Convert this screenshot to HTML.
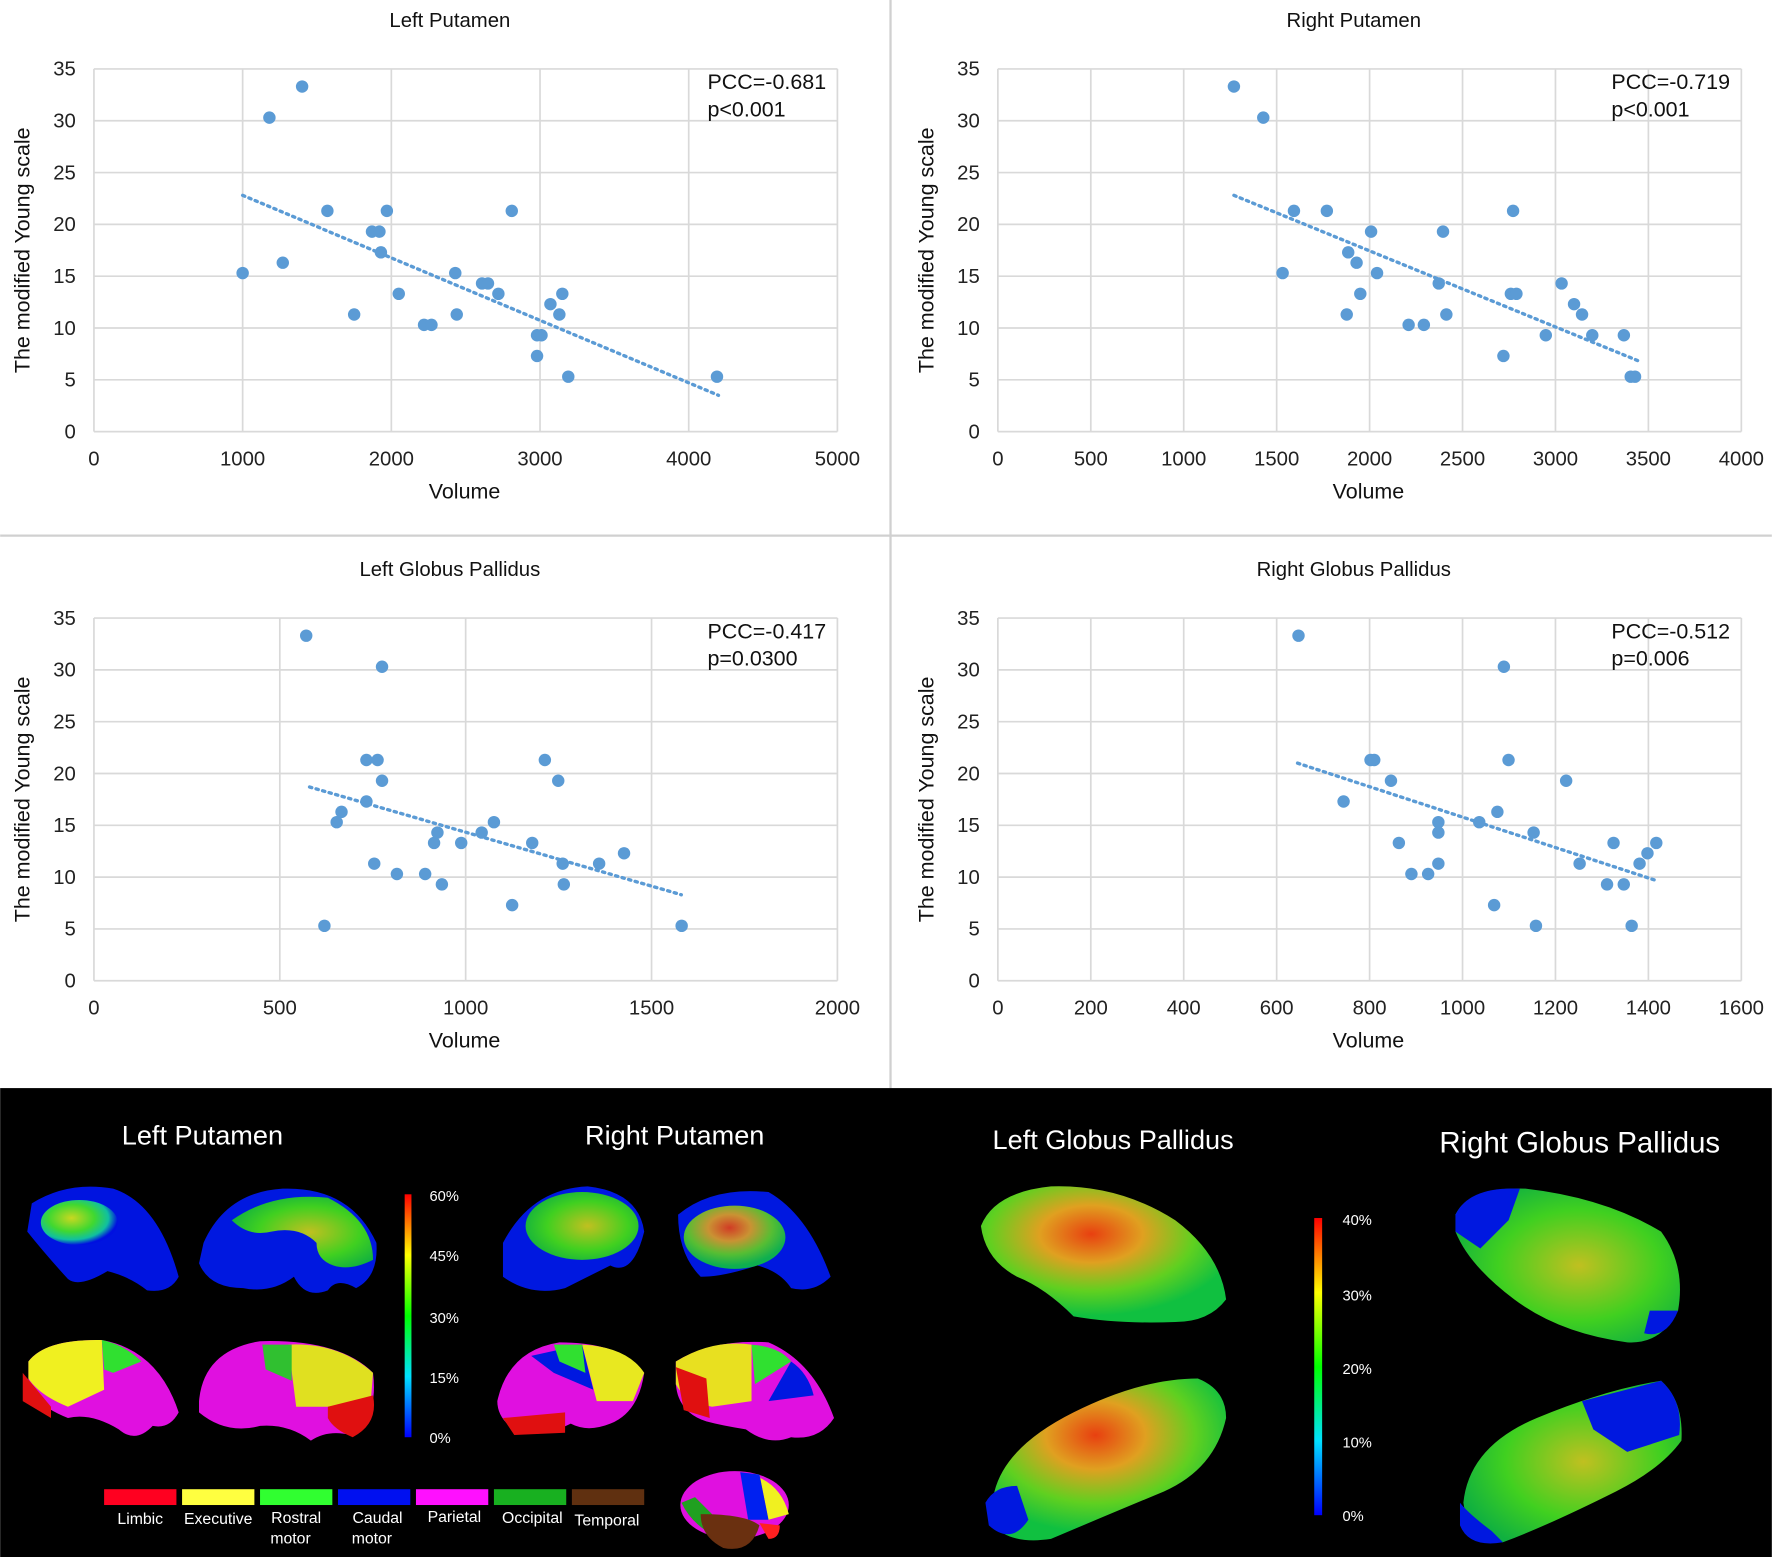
<!DOCTYPE html>
<html><head><meta charset="utf-8">
<style>
html,body{margin:0;padding:0;background:#fff;}
svg{display:block;font-family:"Liberation Sans",Arial,sans-serif;}
</style></head>
<body>
<svg id="fig" width="1772" height="1557" viewBox="0 0 1568 1378" xmlns="http://www.w3.org/2000/svg">
<defs>
<linearGradient id="cb" x1="0" y1="1" x2="0" y2="0">
<stop offset="0" stop-color="#0000ff"/><stop offset="0.25" stop-color="#00e0ff"/><stop offset="0.5" stop-color="#00ff00"/><stop offset="0.75" stop-color="#ffff00"/><stop offset="1" stop-color="#ff0000"/>
</linearGradient>
<radialGradient id="gy" cx="0.4" cy="0.4" r="0.6"><stop offset="0" stop-color="#c8d820"/><stop offset="0.5" stop-color="#40d830"/><stop offset="0.8" stop-color="#10c0a0"/><stop offset="1" stop-color="#0010e0"/></radialGradient>
<radialGradient id="gr" cx="0.45" cy="0.35" r="0.6"><stop offset="0" stop-color="#e84010"/><stop offset="0.35" stop-color="#e0a020"/><stop offset="0.7" stop-color="#60d020"/><stop offset="1" stop-color="#10c040"/></radialGradient>
<radialGradient id="gg" cx="0.55" cy="0.5" r="0.6"><stop offset="0" stop-color="#c0c020"/><stop offset="0.6" stop-color="#40d020"/><stop offset="1" stop-color="#10b040"/></radialGradient>
</defs>
<rect width="1568" height="1378" fill="#fff"/>
<line x1="788" y1="0" x2="788" y2="963" stroke="#d0d0d0" stroke-width="2"/>
<line x1="0" y1="474" x2="1568" y2="474" stroke="#d0d0d0" stroke-width="2"/>
<g id="charts"></g>

<!-- bottom panel -->
<g>
<rect x="0" y="963" width="1568" height="415" fill="#000"/>
<text x="179" y="1013" fill="#fff" font-size="24" text-anchor="middle">Left Putamen</text>
<text x="597" y="1013" fill="#fff" font-size="24" text-anchor="middle">Right Putamen</text>
<text x="985" y="1017" fill="#fff" font-size="24" text-anchor="middle">Left Globus Pallidus</text>
<text x="1398" y="1020" fill="#fff" font-size="26" text-anchor="middle">Right Globus Pallidus</text>

<!-- putamen blobs top -->
<g>
<path d="M28,1065 Q60,1045 100,1052 Q140,1065 158,1130 Q150,1145 130,1142 Q115,1130 95,1125 Q70,1140 60,1132 Q40,1110 24,1090 Z" fill="#0014e0"/>
<ellipse cx="70" cy="1082" rx="34" ry="20" fill="url(#gy)"/>
</g>
<g>
<path d="M180,1100 Q200,1055 250,1052 Q310,1050 333,1100 Q335,1130 315,1140 Q298,1130 290,1142 Q270,1150 260,1130 Q240,1145 215,1140 Q185,1140 176,1118 Z" fill="#0018e0"/>
<path d="M205,1080 Q240,1055 290,1060 Q330,1080 330,1115 Q310,1125 295,1120 Q280,1115 280,1100 Q265,1085 240,1090 Q220,1095 205,1080 Z" fill="url(#gg)"/>
</g>
<g>
<path d="M445,1100 Q470,1052 520,1050 Q565,1055 570,1090 Q560,1130 540,1120 Q520,1130 500,1140 Q470,1148 445,1130 Z" fill="#0018e0"/>
<ellipse cx="515" cy="1085" rx="50" ry="30" fill="url(#gg)"/>
</g>
<g>
<path d="M600,1075 Q630,1050 680,1055 Q715,1075 735,1130 Q720,1145 700,1140 Q690,1125 670,1120 Q640,1130 620,1130 Q600,1110 600,1075 Z" fill="#0018e0"/>
<ellipse cx="650" cy="1095" rx="45" ry="28" fill="url(#gr)" opacity="0.9"/>
</g>
<!-- parcellation blobs -->
<g>
<path d="M25,1205 Q40,1185 90,1186 Q140,1195 158,1250 Q150,1265 135,1262 Q120,1278 105,1265 Q80,1250 60,1255 Q35,1245 25,1230 Z" fill="#e010e0"/>
<path d="M25,1205 Q40,1185 90,1186 L92,1230 L60,1245 Q35,1235 25,1220 Z" fill="#f0f020"/>
<path d="M90,1186 Q110,1190 125,1205 L100,1215 L92,1212 Z" fill="#30e030"/>
<path d="M20,1215 L45,1245 L45,1255 L20,1240 Z" fill="#e01010"/>
</g>
<g>
<path d="M176,1240 Q180,1195 230,1187 Q300,1185 330,1215 Q335,1255 310,1270 Q290,1265 275,1275 Q255,1260 230,1262 Q200,1270 176,1250 Z" fill="#e010e0"/>
<path d="M255,1190 Q300,1188 330,1215 L328,1240 L290,1245 L262,1245 Z" fill="#e0e020"/>
<path d="M232,1190 L258,1190 L258,1222 L235,1212 Z" fill="#30c030"/>
<path d="M290,1245 L330,1235 Q335,1260 312,1272 Q295,1265 290,1255 Z" fill="#e01010"/>
</g>
<g>
<path d="M440,1240 Q450,1195 495,1188 Q550,1188 570,1215 Q565,1250 540,1260 Q520,1268 505,1260 Q475,1275 455,1265 Q440,1255 440,1240 Z" fill="#e010e0"/>
<path d="M515,1190 Q555,1192 570,1215 L560,1240 L528,1240 Z" fill="#e8e820"/>
<path d="M470,1200 L515,1190 L525,1230 L490,1215 Z" fill="#0018e0"/>
<path d="M490,1190 L515,1190 L518,1215 L495,1205 Z" fill="#30e030"/>
<path d="M445,1255 L500,1250 L500,1268 L455,1270 Z" fill="#e01010"/>
</g>
<g>
<path d="M598,1205 Q630,1185 680,1188 Q720,1205 738,1255 Q725,1275 700,1272 Q680,1280 660,1265 Q640,1262 625,1258 Q600,1250 598,1225 Z" fill="#e010e0"/>
<path d="M598,1205 Q630,1185 665,1190 L665,1240 L630,1245 Q605,1240 598,1225 Z" fill="#e8e020"/>
<path d="M598,1210 L625,1220 L628,1255 L605,1248 Z" fill="#e01010"/>
<path d="M665,1190 Q690,1192 700,1205 L668,1225 Z" fill="#30e030"/>
<path d="M700,1205 Q715,1215 720,1235 L680,1240 Z" fill="#0018e0"/>
</g>
<!-- colorbar putamen -->
<g>
<rect x="358" y="1057" width="6" height="215" fill="url(#cb)"/>
<g fill="#fff" font-size="13"><text x="380" y="1063">60%</text><text x="380" y="1116">45%</text><text x="380" y="1171">30%</text><text x="380" y="1224">15%</text><text x="380" y="1277">0%</text></g>
</g>
<!-- legend -->
<g font-size="14" fill="#fff" text-anchor="middle">
<rect x="92" y="1318" width="64" height="14" fill="#ff0020"/><text x="124" y="1349">Limbic</text>
<rect x="161" y="1318" width="64" height="14" fill="#ffff40"/><text x="193" y="1349">Executive</text>
<rect x="230" y="1318" width="64" height="14" fill="#30ff30"/><text x="262" y="1348">Rostral</text><text x="257" y="1366">motor</text>
<rect x="299" y="1318" width="64" height="14" fill="#0010f0"/><text x="334" y="1348">Caudal</text><text x="329" y="1366">motor</text>
<rect x="368" y="1318" width="64" height="14" fill="#ff10ff"/><text x="402" y="1347">Parietal</text>
<rect x="437" y="1318" width="64" height="14" fill="#18b020"/><text x="471" y="1348">Occipital</text>
<rect x="506" y="1318" width="64" height="14" fill="#603010"/><text x="537" y="1350">Temporal</text>
</g>
<g>
<ellipse cx="650" cy="1332" rx="48" ry="30" fill="#e010e0"/>
<path d="M660,1304 Q690,1310 698,1340 L680,1345 L672,1305 Z" fill="#f0f020"/>
<path d="M655,1303 L672,1305 L680,1345 L662,1345 Z" fill="#0020f0"/>
<path d="M603,1330 Q610,1345 625,1355 L630,1340 L615,1325 Z" fill="#20a020"/>
<path d="M620,1340 Q660,1340 672,1350 Q665,1375 640,1370 Q620,1360 620,1340 Z" fill="#6a3010"/>
<path d="M672,1348 L690,1350 Q690,1362 680,1362 Z" fill="#ff2020"/>
</g>
<!-- globus pallidus -->
<g>
<path d="M868,1085 Q880,1055 930,1050 Q990,1048 1040,1080 Q1080,1110 1085,1150 Q1070,1170 1040,1170 Q990,1172 950,1165 Q925,1140 900,1130 Q872,1115 868,1085 Z" fill="url(#gr)"/>
</g>
<g>
<path d="M880,1320 Q890,1280 950,1250 Q1010,1220 1060,1220 Q1085,1230 1085,1255 Q1075,1300 1030,1320 Q970,1345 930,1362 Q890,1368 875,1345 Z" fill="url(#gr)"/>
<path d="M872,1330 Q880,1315 900,1315 L910,1345 Q895,1368 875,1350 Z" fill="#0018e0"/>
</g>
<g>
<rect x="1163" y="1078" width="7" height="263" fill="url(#cb)"/>
<g fill="#fff" font-size="13"><text x="1188" y="1084">40%</text><text x="1188" y="1151">30%</text><text x="1188" y="1216">20%</text><text x="1188" y="1281">10%</text><text x="1188" y="1346">0%</text></g>
</g>
<g>
<path d="M1288,1075 Q1300,1050 1350,1052 Q1420,1060 1470,1090 Q1492,1120 1485,1160 Q1470,1190 1440,1188 Q1380,1180 1340,1150 Q1300,1120 1288,1090 Z" fill="url(#gg)"/>
<path d="M1288,1075 Q1300,1050 1345,1052 L1335,1080 L1310,1105 L1288,1090 Z" fill="#0018e0"/>
<path d="M1460,1160 L1485,1160 Q1475,1185 1455,1180 Z" fill="#0018e0"/>
</g>
<g>
<path d="M1295,1330 Q1300,1280 1360,1255 Q1420,1230 1470,1222 Q1490,1240 1488,1275 Q1470,1300 1430,1320 Q1370,1350 1330,1365 Q1300,1365 1295,1330 Z" fill="url(#gg)"/>
<path d="M1400,1240 L1470,1222 Q1490,1240 1486,1270 L1440,1285 L1410,1265 Z" fill="#0018e0"/>
<path d="M1292,1330 Q1300,1340 1320,1355 L1330,1365 Q1300,1370 1292,1350 Z" fill="#0018e0"/>
</g>
</g>

<script>
// Left Putamen
const lpVol = [1000,1180,1270,1400,1570,1750,1870,1920,1930,1970,2050,2220,2270,2430,2440,2610,2650,2720,2810,2980,2980,3010,3070,3130,3150,3190,4190];
const lpScore = [15.3,30.3,16.3,33.3,21.3,11.3,19.3,19.3,17.3,21.3,13.3,10.3,10.3,15.3,11.3,14.3,14.3,13.3,21.3,7.3,9.3,9.3,12.3,11.3,13.3,5.3,5.3];
const lpTrend = [1000,22.8,4200,3.5];
// Right Putamen
const rpVol = [1270,1428,1593,1532,1770,1885,1930,2008,2040,1950,1877,2210,2292,2372,2395,2413,2720,2760,2790,2772,2948,3033,3100,3143,3198,3368,3405,3428];
const rpScore = [33.3,30.3,21.3,15.3,21.3,17.3,16.3,19.3,15.3,13.3,11.3,10.3,10.3,14.3,19.3,11.3,7.3,13.3,13.3,21.3,9.3,14.3,12.3,11.3,9.3,9.3,5.3,5.3];
const rpTrend = [1270,22.8,3450,6.8];
// Left Globus Pallidus
const lgVol = [571,620,653,666,733,733,763,754,775,775,815,891,915,924,936,988,1043,1076,1125,1179,1213,1249,1261,1264,1359,1426,1581];
const lgScore = [33.3,5.3,15.3,16.3,21.3,17.3,21.3,11.3,19.3,30.3,10.3,10.3,13.3,14.3,9.3,13.3,14.3,15.3,7.3,13.3,21.3,19.3,11.3,9.3,11.3,12.3,5.3];
const lgTrend = [580,18.7,1580,8.3];
// Right Globus Pallidus
const rgVol = [647,744,802,810,846,863,890,926,948,948,948,1036,1068,1075,1089,1099,1153,1158,1223,1252,1311,1325,1347,1364,1381,1398,1417];
const rgScore = [33.3,17.3,21.3,21.3,19.3,13.3,10.3,10.3,11.3,14.3,15.3,15.3,7.3,16.3,30.3,21.3,14.3,5.3,19.3,11.3,9.3,13.3,9.3,5.3,11.3,12.3,13.3];
const rgTrend = [645,21.0,1415,9.7];

const yTicks = [0,5,10,15,20,25,30,35];
const lpXTicks = [0,1000,2000,3000,4000,5000];
const rpXTicks = [0,500,1000,1500,2000,2500,3000,3500,4000];
const lgXTicks = [0,500,1000,1500,2000];
const rgXTicks = [0,200,400,600,800,1000,1200,1400,1600];

const NS = "http://www.w3.org/2000/svg";
const root = document.getElementById('charts');
function mk(tag, attrs, parent){ const e=document.createElementNS(NS,tag); for(const k in attrs) e.setAttribute(k,attrs[k]); parent.appendChild(e); return e; }

function chart(cfg){
  const g = mk('g',{},root);
  
  
  const L=cfg.ox, R=cfg.ox+658, T=cfg.oy, B=cfg.oy+321;
  const xMax=cfg.xt[cfg.xt.length-1];
  const sx=v=>L+v/xMax*(R-L);
  const sy=v=>B-v/35*(B-T);
  const t = mk('text',{x:cfg.ox+315,y:T-37,'font-size':18,'text-anchor':'middle',fill:'#111'},g);
  t.textContent=cfg.title;
  
  
  yTicks.forEach(v=>{
    const ln=mk('line',{x1:L,x2:R,y1:sy(v),y2:sy(v),stroke:'#d9d9d9','stroke-width':1.5},g);
    
    
    const tx=mk('text',{x:L-16,y:sy(v)+6,'font-size':18,'text-anchor':'end',fill:'#222'},g);
    tx.textContent=v;
    
    
  });
  cfg.xt.forEach(v=>{
    const ln=mk('line',{x1:sx(v),x2:sx(v),y1:T,y2:B,stroke:'#d9d9d9','stroke-width':1.5},g);
    
    
    const tx=mk('text',{x:sx(v),y:B+30,'font-size':18,'text-anchor':'middle',fill:'#222'},g);
    tx.textContent=v;
    
    
  });
  const xl=mk('text',{x:cfg.ox+328,y:B+59,'font-size':19,'text-anchor':'middle',fill:'#111'},g);
  xl.textContent='Volume';
  
  
  const yx=cfg.ox-57, yc=(T+B)/2;
  const yl=mk('text',{x:yx,y:yc,'font-size':19,'text-anchor':'middle',fill:'#111',transform:`rotate(-90 ${yx} ${yc})`},g);
  yl.textContent='The modified Young scale';
  
  
  const tr=cfg.trend;
  const tl=mk('line',{x1:sx(tr[0]),y1:sy(tr[1]),x2:sx(tr[2]),y2:sy(tr[3]),stroke:'#5b9bd5','stroke-width':3,'stroke-dasharray':'2 4','stroke-linecap':'round'},g);
  
  
  cfg.xs.forEach((v,i)=>{
    const c=mk('circle',{cx:sx(v),cy:sy(cfg.ys[i]),r:5.5,fill:'#5b9bd5'},g);
    
    
  });
  const a=mk('text',{x:R-115,y:T+18,'font-size':19,fill:'#111'},g);
  a.textContent=cfg.pcc;
  
  
  const b=mk('text',{x:R-115,y:T+42,'font-size':19,fill:'#111'},g);
  b.textContent=cfg.p;
  
  
}
chart({name:'left-putamen-chart',title:'Left Putamen',ox:83,oy:61,xt:lpXTicks,xs:lpVol,ys:lpScore,trend:lpTrend,pcc:'PCC=-0.681',p:'p<0.001'});
chart({name:'right-putamen-chart',title:'Right Putamen',ox:883,oy:61,xt:rpXTicks,xs:rpVol,ys:rpScore,trend:rpTrend,pcc:'PCC=-0.719',p:'p<0.001'});
chart({name:'left-gp-chart',title:'Left Globus Pallidus',ox:83,oy:547,xt:lgXTicks,xs:lgVol,ys:lgScore,trend:lgTrend,pcc:'PCC=-0.417',p:'p=0.0300'});
chart({name:'right-gp-chart',title:'Right Globus Pallidus',ox:883,oy:547,xt:rgXTicks,xs:rgVol,ys:rgScore,trend:rgTrend,pcc:'PCC=-0.512',p:'p=0.006'});
</script>
</svg>
</body></html>
